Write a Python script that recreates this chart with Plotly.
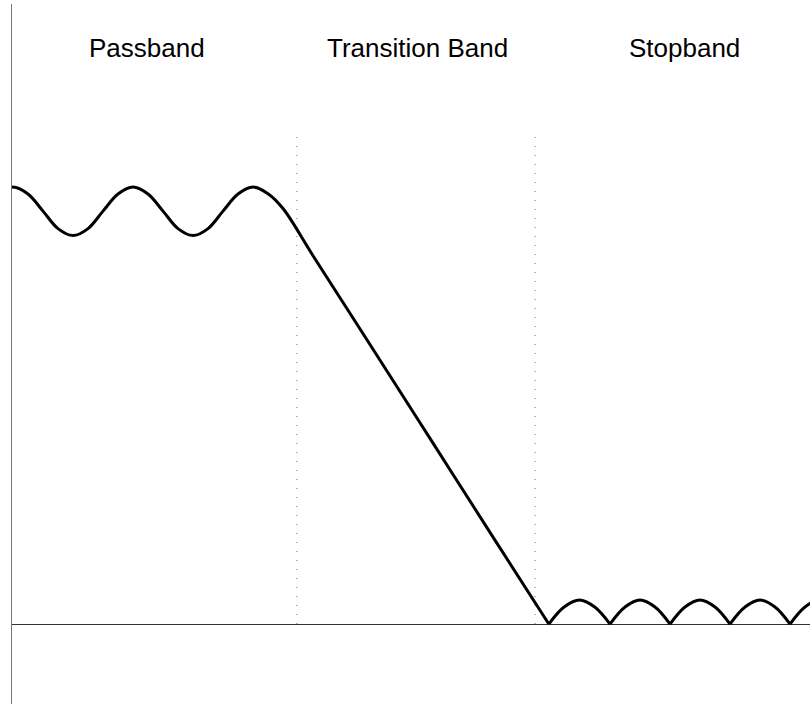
import plotly.graph_objects as go

# Filter magnitude response (normalized units)
pass_trans_x = [-0.25, 0.0, 0.25, 0.5, 0.75, 1.0, 1.25, 1.5, 1.75, 2.0, 2.25, 2.5, 2.75,
                3.0, 3.25, 3.5, 3.75, 4.0, 4.25, 4.5, 5.0, 6.0, 7.0, 8.0, 8.93]
pass_trans_y = [0.984, 1.0, 0.984, 0.945, 0.905, 0.889, 0.905, 0.945, 0.984, 1.0, 0.984,
                0.945, 0.905, 0.889, 0.905, 0.945, 0.984, 1.0, 0.985, 0.951, 0.843,
                0.629, 0.414, 0.199, 0.0]

stop_bumps_x = [
    [8.93, 9.185, 9.44, 9.695, 9.95],
    [9.95, 10.2, 10.45, 10.7, 10.95],
    [10.95, 11.2, 11.45, 11.7, 11.95],
    [11.95, 12.2, 12.45, 12.7, 12.95],
    [12.95, 13.2, 13.45, 13.7, 13.95],
]
stop_bumps_y = [
    [0.0, 0.039, 0.055, 0.039, 0.0],
    [0.0, 0.039, 0.055, 0.039, 0.0],
    [0.0, 0.039, 0.055, 0.039, 0.0],
    [0.0, 0.039, 0.055, 0.039, 0.0],
    [0.0, 0.039, 0.055, 0.039, 0.0],
]

band_edges = [4.73, 8.70]
band_edge_top = 1.12

band_labels = ["Passband", "Transition Band", "Stopband"]
band_label_x = [2.24, 6.74, 11.19]
band_label_y = 1.318

fig = go.Figure()
line_style = dict(color="black", width=3, shape="spline", smoothing=1.0)
fig.add_trace(go.Scatter(x=pass_trans_x, y=pass_trans_y, mode="lines",
                         line=line_style, hoverinfo="skip"))
for bx, by in zip(stop_bumps_x, stop_bumps_y):
    fig.add_trace(go.Scatter(x=bx, y=by, mode="lines", line=line_style,
                             hoverinfo="skip"))

for xe in band_edges:
    fig.add_shape(type="line", x0=xe, x1=xe, y0=0, y1=band_edge_top,
                  xref="x", yref="y",
                  line=dict(color="#888888", width=1.2, dash="1px,8px"),
                  layer="below")

for txt, lx in zip(band_labels, band_label_x):
    fig.add_annotation(x=lx, y=band_label_y, text=txt, showarrow=False,
                       xanchor="center", yanchor="middle",
                       font=dict(family="Liberation Sans, Arial", size=26,
                                 color="black"))

fig.update_layout(
    width=810, height=704,
    margin=dict(l=12, r=0, t=4, b=0),
    paper_bgcolor="white", plot_bgcolor="white",
    showlegend=False,
    xaxis=dict(range=[-0.0167, 13.283], showgrid=False, showticklabels=False,
               ticks="", zeroline=False, showline=False),
    yaxis=dict(range=[-0.183, 1.419], showgrid=False, showticklabels=False,
               ticks="", zeroline=True, zerolinecolor="#333333",
               zerolinewidth=1, showline=True, linecolor="#777777",
               linewidth=1.5),
)

fig.write_html("out.html",
               config={"displayModeBar": False, "staticPlot": True},
               post_script="document.body.style.margin='0px';"
                           "document.body.style.overflow='hidden';")
